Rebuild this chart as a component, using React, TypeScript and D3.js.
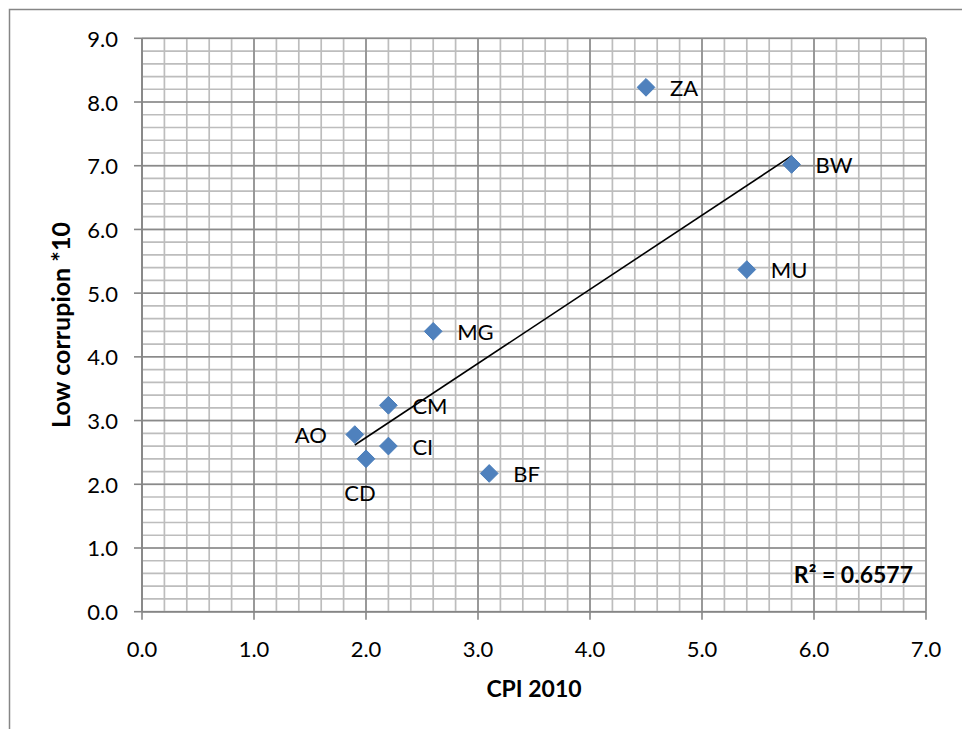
import React from "react";
import * as d3 from "d3";

const countries = ["AO", "CD", "CI", "CM", "MG", "BF", "ZA", "MU", "BW"];
const cpi2010 = [1.9, 2.0, 2.2, 2.2, 2.6, 3.1, 4.5, 5.4, 5.8];
const lowCorruption = [2.78, 2.4, 2.6, 3.24, 4.4, 2.17, 8.23, 5.37, 7.02];
const labelSide = ["left", "below", "right", "right", "right", "right", "right", "right", "right"];
const xTicks = [0, 1, 2, 3, 4, 5, 6, 7];
const yTicks = [0, 1, 2, 3, 4, 5, 6, 7, 8, 9];
const r2Text = "R² = 0.6577";

const W = 962;
const H = 729;
const left = 142;
const right = 926;
const top = 38.3;
const bottom = 611.7;
const FONT = "Lato, 'Open Sans', sans-serif";

export default function App() {
  const x = d3.scaleLinear().domain([0, 7]).range([left, right]);
  const y = d3.scaleLinear().domain([0, 9]).range([bottom, top]);

  const minorX = d3.range(0, 7.0001, 0.2).map((v) => +v.toFixed(1));
  const minorY = d3.range(0, 9.0001, 0.2).map((v) => +v.toFixed(1));

  // linear regression trendline
  const mx = d3.mean(cpi2010) as number;
  const my = d3.mean(lowCorruption) as number;
  let sxy = 0, sxx = 0;
  cpi2010.forEach((v, i) => {
    sxy += (v - mx) * (lowCorruption[i] - my);
    sxx += (v - mx) * (v - mx);
  });
  const slope = sxy / sxx;
  const intercept = my - slope * mx;
  const [x0, x1] = d3.extent(cpi2010) as [number, number];
  const line = d3.line<number>().x((d) => x(d)).y((d) => y(intercept + slope * d));

  const diamond = d3.symbol().type(d3.symbolDiamond2).size(200)() as string;

  return (
    <svg
      width={W}
      height={H}
      style={{ position: "absolute", left: 0, top: 0, background: "#fff" }}
      fontFamily={FONT}
    >
      <rect x={9.5} y={9.5} width={W + 20} height={H + 20} fill="#fff" stroke="#868686" strokeWidth={1.5} />
      {/* minor gridlines */}
      <g stroke="#bdbdbd" strokeWidth={1.7}>
        {minorX.map((v) => (
          <line key={"mx" + v} x1={x(v)} x2={x(v)} y1={top} y2={bottom} />
        ))}
        {minorY.map((v) => (
          <line key={"my" + v} x1={left} x2={right} y1={y(v)} y2={y(v)} />
        ))}
      </g>
      {/* major gridlines */}
      <g stroke="#8a8a8a" strokeWidth={1.5}>
        {xTicks.map((v) => (
          <line key={"Mx" + v} x1={x(v)} x2={x(v)} y1={top} y2={bottom} />
        ))}
        {yTicks.map((v) => (
          <line key={"My" + v} x1={left} x2={right} y1={y(v)} y2={y(v)} />
        ))}
      </g>
      {/* axes & ticks */}
      <g stroke="#868686" strokeWidth={1.6}>
        <line x1={left} x2={left} y1={top} y2={bottom} />
        <line x1={left} x2={right} y1={bottom} y2={bottom} />
        {xTicks.map((v) => (
          <line key={"tx" + v} x1={x(v)} x2={x(v)} y1={bottom} y2={bottom + 8} />
        ))}
        {yTicks.map((v) => (
          <line key={"ty" + v} x1={left - 8} x2={left} y1={y(v)} y2={y(v)} />
        ))}
      </g>
      <g fontSize={22} fill="#000">
        {xTicks.map((v) => (
          <text key={"lx" + v} x={x(v)} y={648} textAnchor="middle" dominantBaseline="central">
            {v.toFixed(1)}
          </text>
        ))}
        {yTicks.map((v) => (
          <text key={"ly" + v} x={118} y={y(v)} textAnchor="end" dominantBaseline="central">
            {v.toFixed(1)}
          </text>
        ))}
      </g>
      {/* axis titles */}
      <text x={(left + right) / 2} y={688} textAnchor="middle" dominantBaseline="central" fontSize={23} fontWeight="bold">
        CPI 2010
      </text>
      <text
        transform={`translate(60,${(top + bottom) / 2}) rotate(-90)`}
        textAnchor="middle"
        dominantBaseline="central"
        fontSize={25}
        fontWeight="bold"
      >
        Low corrupion *10
      </text>
      {/* trendline */}
      <path d={line([x0, x1]) as string} fill="none" stroke="#000" strokeWidth={1.6} />
      {/* points */}
      {countries.map((c, i) => (
        <path
          key={"p" + c}
          d={diamond}
          transform={`translate(${x(cpi2010[i])},${y(lowCorruption[i])})`}
          fill="#4f81bd"
          stroke="#4a7ebb"
          strokeWidth={1}
        />
      ))}
      {/* labels */}
      <g fontSize={22} fill="#000">
        {countries.map((c, i) => {
          const px = x(cpi2010[i]);
          const py = y(lowCorruption[i]);
          const side = labelSide[i];
          if (side === "left")
            return (
              <text key={"t" + c} x={px - 28} y={py} textAnchor="end" dominantBaseline="central">
                {c}
              </text>
            );
          if (side === "below")
            return (
              <text key={"t" + c} x={px - 6} y={py + 34} textAnchor="middle" dominantBaseline="central">
                {c}
              </text>
            );
          return (
            <text key={"t" + c} x={px + 24} y={py} textAnchor="start" dominantBaseline="central">
              {c}
            </text>
          );
        })}
      </g>
      <text x={913} y={574} textAnchor="end" dominantBaseline="central" fontSize={23} fontWeight="bold">
        {r2Text}
      </text>
    </svg>
  );
}
